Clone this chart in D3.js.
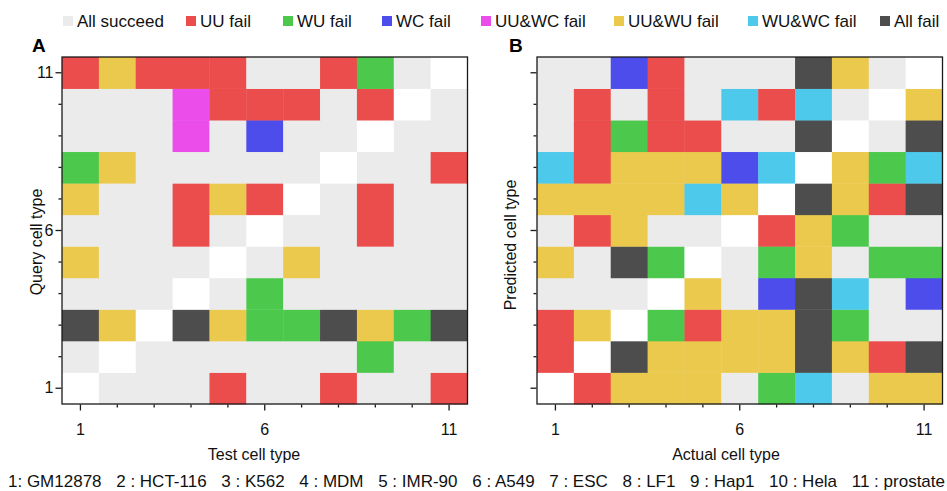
<!DOCTYPE html>
<html>
<head>
<meta charset="utf-8">
<script src="https://cdn.jsdelivr.net/npm/d3@7/dist/d3.min.js"></script>
<style>
  html, body { margin: 0; padding: 0; background: #fff; }
  svg { display: block; font-family: "Liberation Sans", Arial, sans-serif; }
</style>
</head>
<body>
<svg id="chart" width="947" height="491"></svg>
<script>
// Cell types (1..11)
const cellTypes = ["GM12878", "HCT-116", "K562", "MDM", "IMR-90", "A549", "ESC", "LF1", "Hap1", "Hela", "prostate"];
const indices = d3.range(1, 12);
const tickLabels = [1, 6, 11];

// Outcome categories and their colours
const outcomes = ["All succeed", "UU fail", "WU fail", "WC fail", "UU&WC fail", "UU&WU fail", "WU&WC fail", "All fail"];
const outcomeColors = ["#ebebeb", "#eb4d4d", "#4cc94c", "#4d4deb", "#eb4deb", "#ebc94d", "#4dc9eb", "#4d4d4d"];

// Panel A: rows = query cell type 1..11, columns = test cell type 1..11
// values index into outcomes; null = same cell type (left blank)
const panelA = [
  [null, 0, 0, 0, 1, 0, 0, 1, 0, 0, 1],
  [0, null, 0, 0, 0, 0, 0, 0, 2, 0, 0],
  [7, 5, null, 7, 5, 2, 2, 7, 5, 2, 7],
  [0, 0, 0, null, 0, 2, 0, 0, 0, 0, 0],
  [5, 0, 0, 0, null, 0, 5, 0, 0, 0, 0],
  [0, 0, 0, 1, 0, null, 0, 0, 1, 0, 0],
  [5, 0, 0, 1, 5, 1, null, 0, 1, 0, 0],
  [2, 5, 0, 0, 0, 0, 0, null, 0, 0, 1],
  [0, 0, 0, 4, 0, 3, 0, 0, null, 0, 0],
  [0, 0, 0, 4, 1, 1, 1, 0, 1, null, 0],
  [1, 5, 1, 1, 1, 0, 0, 1, 2, 0, null]
];

// Panel B: rows = predicted cell type 1..11, columns = actual cell type 1..11
const panelB = [
  [null, 1, 5, 5, 5, 0, 2, 6, 0, 5, 5],
  [1, null, 7, 5, 5, 5, 5, 7, 5, 1, 7],
  [1, 5, null, 2, 1, 5, 5, 7, 2, 0, 0],
  [0, 0, 0, null, 5, 0, 3, 7, 6, 0, 3],
  [5, 0, 7, 2, null, 0, 2, 5, 0, 2, 2],
  [0, 1, 5, 0, 0, null, 1, 5, 2, 0, 0],
  [5, 5, 5, 5, 6, 5, null, 7, 5, 1, 7],
  [6, 1, 5, 5, 5, 3, 6, null, 5, 2, 6],
  [0, 1, 2, 1, 1, 0, 0, 7, null, 0, 7],
  [0, 1, 0, 1, 0, 6, 1, 6, 0, null, 5],
  [0, 0, 3, 1, 0, 0, 0, 7, 5, 0, null]
];

const svg = d3.select("#chart");
const FONT = 16;
const color = d3.scaleOrdinal().domain(d3.range(outcomes.length)).range(outcomeColors);

// ---- Legend ----
const legendX = [63, 186, 283, 382, 481, 614, 748, 880];
const legend = svg.append("g");
outcomes.forEach((name, i) => {
  const g = legend.append("g").attr("transform", `translate(${legendX[i]},0)`);
  g.append("rect").attr("x", 0).attr("y", 16).attr("width", 10).attr("height", 10).attr("fill", outcomeColors[i]);
  g.append("text").attr("x", 14).attr("y", 27).attr("font-size", 17).attr("fill", "#111").text(name);
});

// ---- Heatmap panels ----
function drawPanel(data, opts) {
  const x = d3.scaleBand().domain(indices).range([opts.x0, opts.x1]).padding(0);
  const y = d3.scaleBand().domain(indices).range([opts.y1, opts.y0]).padding(0);
  const g = svg.append("g");

  const cells = [];
  data.forEach((row, ri) => row.forEach((v, ci) => cells.push({ r: ri + 1, c: ci + 1, v })));

  g.selectAll("rect.cell").data(cells).join("rect")
    .attr("class", "cell")
    .attr("x", d => x(d.c))
    .attr("y", d => y(d.r))
    .attr("width", x.bandwidth() + 0.4)
    .attr("height", y.bandwidth() + 0.4)
    .attr("fill", d => d.v === null ? "#ffffff" : color(d.v));

  // frame
  g.append("rect")
    .attr("x", opts.x0).attr("y", opts.y0)
    .attr("width", opts.x1 - opts.x0).attr("height", opts.y1 - opts.y0)
    .attr("fill", "none").attr("stroke", "#1a1a1a").attr("stroke-width", 1.3);

  // bottom axis
  const xAxis = d3.axisBottom(x).tickSize(6).tickSizeOuter(0)
    .tickFormat(d => tickLabels.includes(d) ? d : "");
  const gx = g.append("g").attr("transform", `translate(0,${opts.y1 + 0.5})`).call(xAxis);
  gx.select(".domain").remove();
  gx.selectAll(".tick line").attr("stroke", "#1a1a1a").attr("stroke-width", 1.3)
    .attr("y2", d => tickLabels.includes(d) ? 6 : 3);
  gx.selectAll(".tick text").attr("y", 30).attr("dy", null)
    .attr("font-size", FONT).attr("font-family", null).attr("fill", "#111");

  // left axis
  const yAxis = d3.axisLeft(y).tickSize(6).tickSizeOuter(0)
    .tickFormat(d => (opts.yLabels && tickLabels.includes(d)) ? d : "");
  const gy = g.append("g").attr("transform", `translate(${opts.x0 - 0.5},0)`).call(yAxis);
  gy.select(".domain").remove();
  gy.selectAll(".tick line").attr("stroke", "#1a1a1a").attr("stroke-width", 1.3)
    .attr("x2", d => tickLabels.includes(d) ? -6 : -3);
  gy.selectAll(".tick text").attr("x", -8)
    .attr("font-size", FONT).attr("font-family", null).attr("fill", "#111");

  // axis titles
  g.append("text")
    .attr("x", opts.xTitleX).attr("y", 460)
    .attr("text-anchor", "middle").attr("font-size", FONT).attr("fill", "#111")
    .text(opts.xTitle);
  g.append("text")
    .attr("transform", `translate(${opts.yTitleX},${opts.yTitleY}) rotate(-90)`)
    .attr("text-anchor", "middle").attr("font-size", FONT).attr("fill", "#111")
    .text(opts.yTitle);

  // panel letter
  g.append("text")
    .attr("x", opts.letterX).attr("y", 52)
    .attr("font-size", 19).attr("font-weight", "bold").attr("fill", "#000")
    .text(opts.letter);
}

drawPanel(panelA, {
  x0: 62, x1: 467.5, y0: 57, y1: 404,
  yLabels: true, xTitle: "Test cell type", yTitle: "Query cell type",
  xTitleX: 254, yTitleX: 42, yTitleY: 242, letter: "A", letterX: 32
});
drawPanel(panelB, {
  x0: 537, x1: 942.5, y0: 57, y1: 404,
  yLabels: false, xTitle: "Actual cell type", yTitle: "Predicted cell type",
  xTitleX: 726, yTitleX: 516, yTitleY: 245, letter: "B", letterX: 509
});

// ---- Cell type key, spread evenly across the width ----
const keyItems = cellTypes.map((n, i) => (i === 0 ? `${i + 1}: ${n}` : `${i + 1} : ${n}`));
const keyG = svg.append("g");
const keyTexts = keyG.selectAll("text").data(keyItems).join("text")
  .attr("y", 487).attr("font-size", 17).attr("fill", "#111")
  .text(d => d);
const widths = keyTexts.nodes().map(n => n.getComputedTextLength());
const keyLeft = 8, keyRight = 945;
const gap = (keyRight - keyLeft - d3.sum(widths)) / (keyItems.length - 1);
let cx = keyLeft;
keyTexts.each(function(d, i) {
  d3.select(this).attr("x", cx);
  cx += widths[i] + gap;
});
</script>
</body>
</html>
